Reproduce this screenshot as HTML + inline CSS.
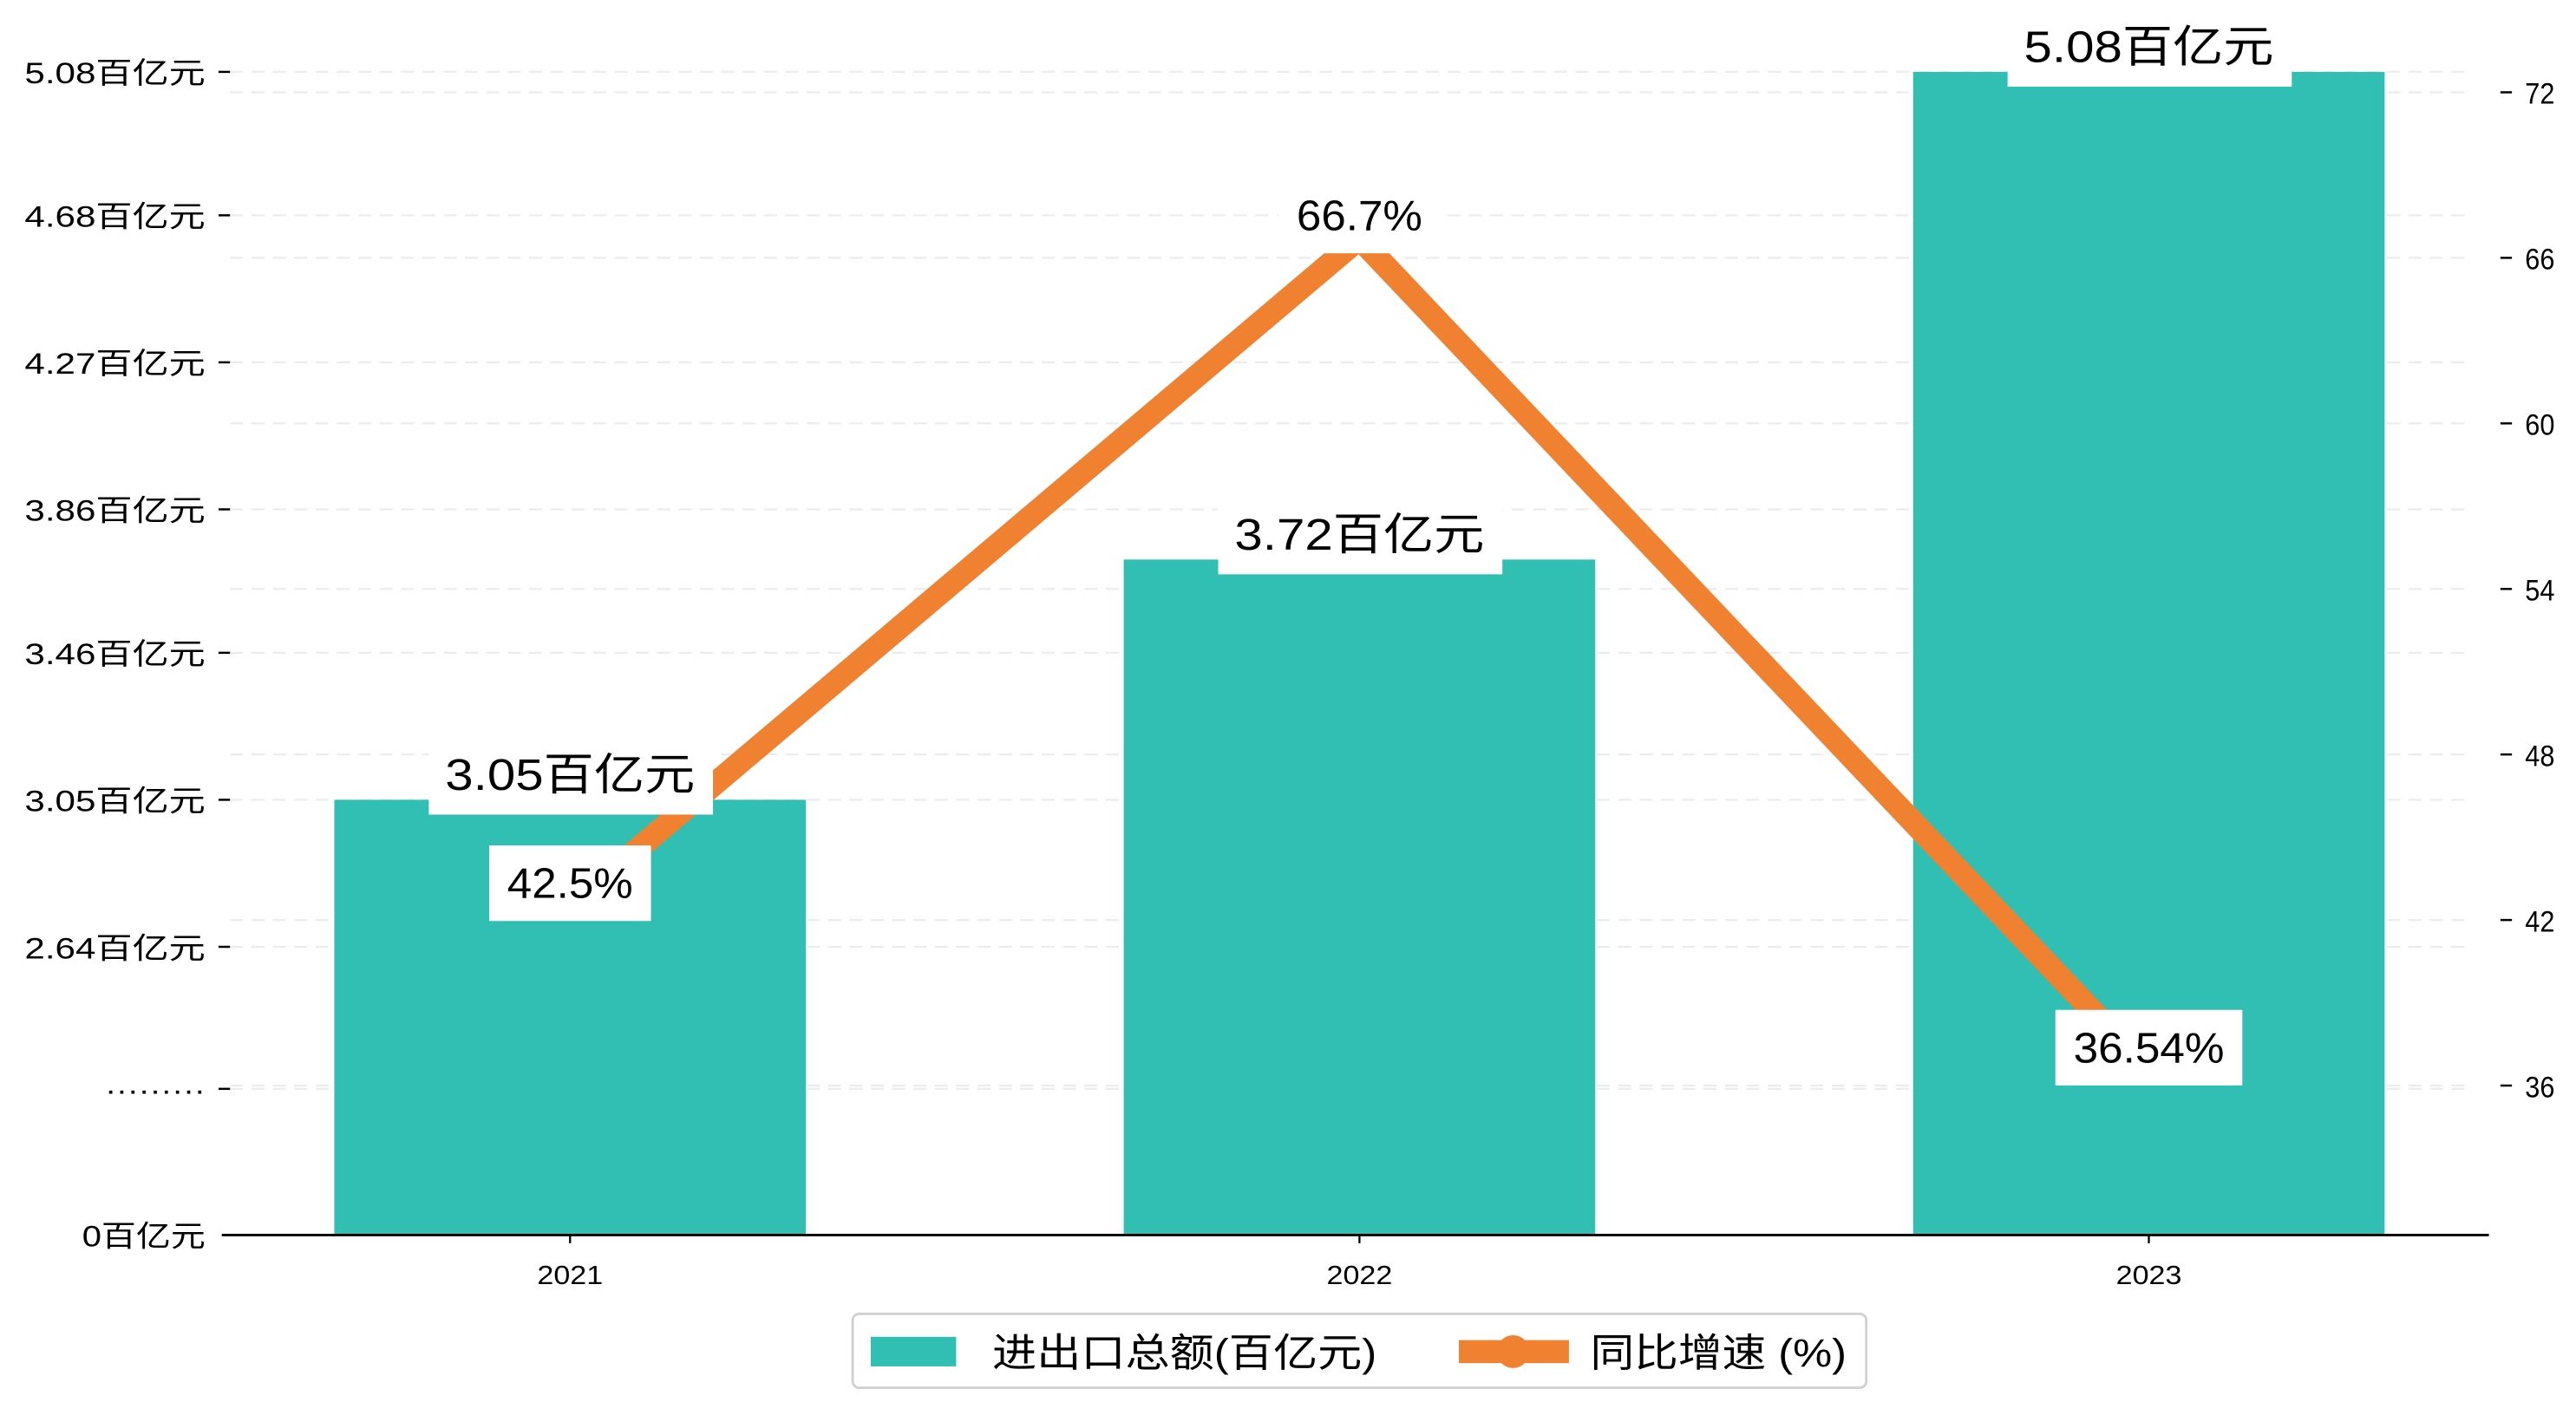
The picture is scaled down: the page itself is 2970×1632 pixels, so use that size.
<!DOCTYPE html>
<html><head><meta charset="utf-8"><style>
html,body{margin:0;padding:0;background:#fff;}
svg{display:block;font-family:"WenQuanYi Zen Hei","Liberation Sans",sans-serif;}
</style></head><body>
<svg id="chart" width="2970" height="1632" viewBox="0 0 1568 861.6" xmlns="http://www.w3.org/2000/svg"></svg>
<script>
const categories = ["2021","2022","2023"];
const barValues = [3.05, 3.72, 5.08];
const barLabels = ["3.05百亿元","3.72百亿元","5.08百亿元"];
const growthValues = [42.5, 66.7, 36.54];
const growthLabels = ["42.5%","66.7%","36.54%"];
const leftTickLabels = ["0百亿元","·········","2.64百亿元","3.05百亿元","3.46百亿元","3.86百亿元","4.27百亿元","4.68百亿元","5.08百亿元"];
const leftTickValues = [0, 2.24, 2.64, 3.05, 3.46, 3.86, 4.27, 4.68, 5.08];
const rightTickValues = [36, 42, 48, 54, 60, 66, 72];

const NS = "http://www.w3.org/2000/svg";
const svg = document.getElementById('chart');
function mk(tag, attrs, parent){const e=document.createElementNS(NS,tag);for(const k in attrs)e.setAttribute(k,attrs[k]);(parent||svg).appendChild(e);return e;}
function tlen(s, unit){ let w=0; for(const ch of s){ w += (ch.charCodeAt(0)>255)?2:1; } return w*unit; }

const baseY = 752;
function yL(v){ if(v<=2.24) return baseY - (v/2.24)*(baseY-663); return 487 - (v-3.05)/0.00458; }
function yR(v){ return 661 - (v-36)*(100.8/6); }
function xC(i){ return 347 + i*480.5; }

leftTickValues.forEach(v=>{ if(v===0) return;
  const g=mk('line',{x1:140,x2:1500,y1:yL(v),y2:yL(v),stroke:'#ececec','stroke-width':1.2,'stroke-dasharray':'8,5'});
   
});
rightTickValues.forEach(v=>{
  const g=mk('line',{x1:140,x2:1500,y1:yR(v),y2:yR(v),stroke:'#ececec','stroke-width':1.2,'stroke-dasharray':'8,5'});
   
});

barValues.forEach((v,i)=>{
  const r=mk('rect',{x:xC(i)-143.5,y:yL(v),width:287,height:baseY-yL(v),fill:'#32bfb3'});
   
});

const ax=mk('line',{x1:135,x2:1515,y1:baseY,y2:baseY,stroke:'#000','stroke-width':1.5});
 
categories.forEach((c,i)=>{
  mk('line',{x1:xC(i),x2:xC(i),y1:baseY,y2:baseY+5,stroke:'#000','stroke-width':1.2});
  const t=mk('text',{x:xC(i),y:782,'font-size':16,'text-anchor':'middle',textLength:40,lengthAdjust:'spacingAndGlyphs'}); t.textContent=c;
   
});

leftTickValues.forEach((v,i)=>{
  const y=yL(v);
  if(v!==0) mk('line',{x1:133,x2:140,y1:y,y2:y,stroke:'#000','stroke-width':1.3});
  const lab=leftTickLabels[i];
  let len = v===0 ? 75 : (lab.indexOf('·')===0 ? 61 : 110);
  const t=mk('text',{x:125,y:y+7,'font-size':18,'text-anchor':'end',textLength:len,lengthAdjust:'spacingAndGlyphs'}); t.textContent=lab;
   
});
rightTickValues.forEach(v=>{
  const y=yR(v);
  mk('line',{x1:1522,x2:1529,y1:y,y2:y,stroke:'#000','stroke-width':1.3});
  const t=mk('text',{x:1537,y:y+7,'font-size':18,textLength:18,lengthAdjust:'spacingAndGlyphs'}); t.textContent=v;
   
});

const pts=growthValues.map((v,i)=>xC(i)+','+yR(v)).join(' ');
const pl=mk('polyline',{points:pts,fill:'none',stroke:'#ef8130','stroke-width':14,'stroke-linejoin':'miter'});
 

barValues.forEach((v,i)=>{
  const y=yL(v);
  const r=mk('rect',{x:xC(i)-86,y:y-34,width:173,height:43,fill:'#fff'});
   
  const t=mk('text',{x:xC(i),y:y-6,'font-size':27,'text-anchor':'middle',textLength:152,lengthAdjust:'spacingAndGlyphs'}); t.textContent=barLabels[i];
   
});
growthValues.forEach((v,i)=>{
  const y=yR(v);
  const tl=tlen(growthLabels[i],15.3);
  const w=tl+22;
  const r=mk('rect',{x:xC(i)-w/2,y:y-37,width:w,height:46,fill:'#fff'});
   
  const t=mk('text',{x:xC(i),y:y-5,'font-size':26,'text-anchor':'middle',textLength:tl,lengthAdjust:'spacingAndGlyphs'}); t.textContent=growthLabels[i];
   
});

const lg=mk('g',{});  
mk('rect',{x:519,y:800,width:617,height:45,rx:4,fill:'#fff',stroke:'#d0d0d0','stroke-width':1.5},lg);
const l1=mk('rect',{x:530,y:814,width:52,height:18,fill:'#32bfb3'},lg);
 
const t1=mk('text',{x:604,y:832,'font-size':24,textLength:234,lengthAdjust:'spacingAndGlyphs'},lg); t1.textContent='进出口总额(百亿元)';
 
mk('line',{x1:888,x2:955,y1:823,y2:823,stroke:'#ef8130','stroke-width':14},lg);
mk('circle',{cx:921,cy:823,r:10,fill:'#ef8130'},lg);
const t2=mk('text',{x:968,y:832,'font-size':24,textLength:156,lengthAdjust:'spacingAndGlyphs'},lg); t2.textContent='同比增速 (%)';
 
</script>
</body></html>
